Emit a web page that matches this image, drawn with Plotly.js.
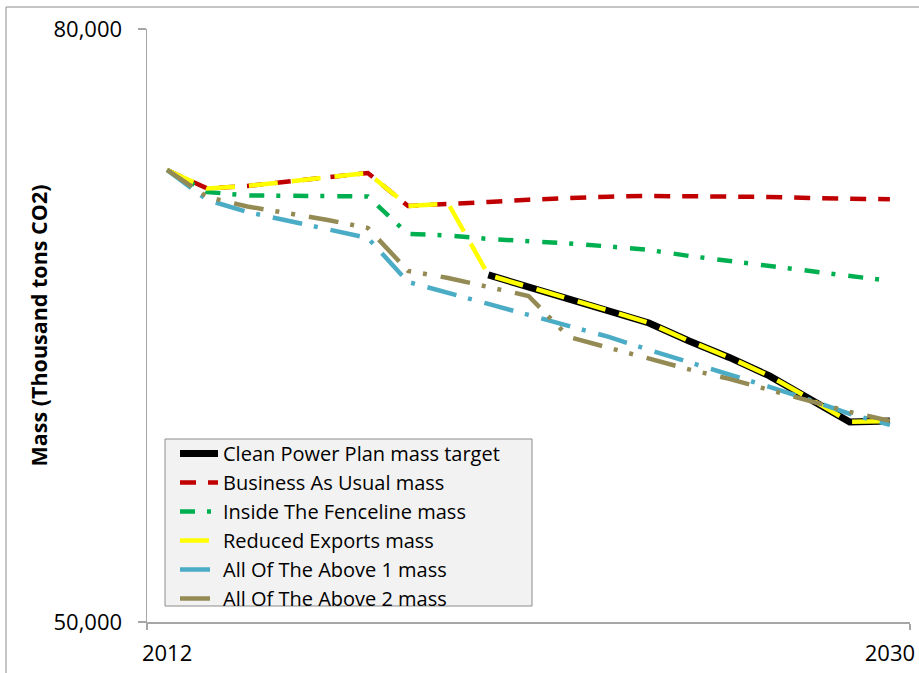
<!DOCTYPE html>
<html>
<head>
<meta charset="utf-8">
<script src="https://cdn.plot.ly/plotly-3.0.1.min.js"></script>
<style>html,body{margin:0;padding:0;background:#fff;}#chart{width:919px;height:673px;}</style>
</head>
<body>
<div id="chart"></div>
<script>
var years = [2012,2013,2014,2015,2016,2017,2018,2019,2020,2021,2022,2023,2024,2025,2026,2027,2028,2029,2030];
var cppTarget = [null,null,null,null,null,null,null,null,67557,66966,66358,65752,65129,64219,63384,62449,61311,60122,60173];
var businessAsUsual = [72868,71932,72059,72287,72514,72716,71047,71174,71250,71366,71467,71518,71553,71553,71553,71503,71452,71401,71386];
var insideFenceline = [72868,71755,71578,71553,71553,71528,69631,69555,69378,69277,69151,68999,68822,68518,68265,67987,67760,67507,67254];
var reducedExports = [72868,71932,72059,72287,72514,72716,71047,71174,67557,66966,66358,65752,65129,64219,63384,62449,61311,60122,60173];
var allAbove1 = [72868,71351,70744,70289,69833,69429,67203,66622,66090,65534,64978,64421,63764,63157,62499,61892,61235,60527,59970];
var allAbove2 = [72868,71503,71022,70678,70339,69935,67760,67406,66976,66495,64421,63865,63359,62778,62297,61741,61184,60628,60173];
var seriesNames = ["Clean Power Plan mass target","Business As Usual mass","Inside The Fenceline mass","Reduced Exports mass","All Of The Above 1 mass","All Of The Above 2 mass"];
var xTickVals = [2012, 2030];
var xTickText = ["2012", "2030"];
var yTickVals = [50000, 80000];

var FONT = "'Open Sans', 'Noto Sans', sans-serif";
function tr(y, name, color, width, dash) {
  return {x: years, y: y, name: name, type: 'scatter', mode: 'lines', connectgaps: false,
    line: {color: color, width: width, dash: dash}};
}
var data = [
  tr(cppTarget, seriesNames[0], '#000000', 7, 'solid'),
  tr(businessAsUsual, seriesNames[1], '#c00000', 4.5, '16px,12px'),
  tr(insideFenceline, seriesNames[2], '#00b050', 4.5, '15px,12px,4px,13px'),
  tr(reducedExports, seriesNames[3], '#ffff00', 4.5, '29px,14px'),
  tr(allAbove1, seriesNames[4], '#4bacc6', 4.5, '30px,12px,4px,13px'),
  tr(allAbove2, seriesNames[5], '#948a54', 4.5, '30px,12px,4px,12px,4px,14px')
];
var L = 147, R = 9, T = 29, B = 51, W = 919 - L - R, H = 673 - T - B;
function px(x) { return (x - L) / W; }
function py(y) { return (622 - y) / H; }
var layout = {
  width: 919, height: 673,
  margin: {l: L, r: R, t: T, b: B, pad: 0},
  paper_bgcolor: '#ffffff', plot_bgcolor: '#ffffff',
  font: {family: FONT, size: 20, color: '#000000'},
  showlegend: true,
  legend: {x: px(175), y: py(434), xanchor: 'left', yanchor: 'top',
    bgcolor: 'rgba(0,0,0,0)', borderwidth: 0,
    font: {family: FONT, size: 20, color: '#000000'}, itemwidth: 38, tracegroupgap: 0},
  xaxis: {range: [2011.5, 2030.5], tickmode: 'array', tickvals: xTickVals, ticktext: xTickText,
    showline: true, linecolor: '#a6a6a6', linewidth: 1.5, showgrid: false, zeroline: false,
    ticks: '', ticklabelstandoff: 11,
    minor: {tickmode: 'linear', tick0: 2011.5, dtick: 19, ticks: 'outside', ticklen: 6, tickcolor: '#a6a6a6', tickwidth: 1.5, showgrid: false},
    tickfont: {family: FONT, size: 22, color: '#000000'}},
  yaxis: {range: [50000, 80000], tickmode: 'array', tickvals: yTickVals, tickformat: ',d',
    showline: true, linecolor: '#a6a6a6', linewidth: 1.5, showgrid: true, gridcolor: '#a6a6a6', gridwidth: 1.5,
    zeroline: false, ticks: 'outside', ticklen: 8, tickcolor: '#a6a6a6', tickwidth: 1.5, ticklabelstandoff: 11,
    tickfont: {family: FONT, size: 22, color: '#000000'},
    title: {text: '<b>Mass (Thousand tons CO2)</b>', standoff: 0, font: {family: FONT, size: 21.5, color: '#000000'}}},
  shapes: [
    {type: 'rect', xref: 'paper', yref: 'paper', x0: px(6), x1: px(930), y0: py(690), y1: py(7),
      line: {color: '#8c8c8c', width: 1}, fillcolor: 'rgba(0,0,0,0)', layer: 'below'},
    {type: 'rect', xref: 'paper', yref: 'paper', x0: px(165), x1: px(532), y0: py(606), y1: py(439),
      line: {color: '#8c8c8c', width: 1}, fillcolor: '#f2f2f2', layer: 'below'}
  ]
};
Plotly.newPlot('chart', data, layout, {displayModeBar: false, staticPlot: true});
</script>
</body>
</html>
